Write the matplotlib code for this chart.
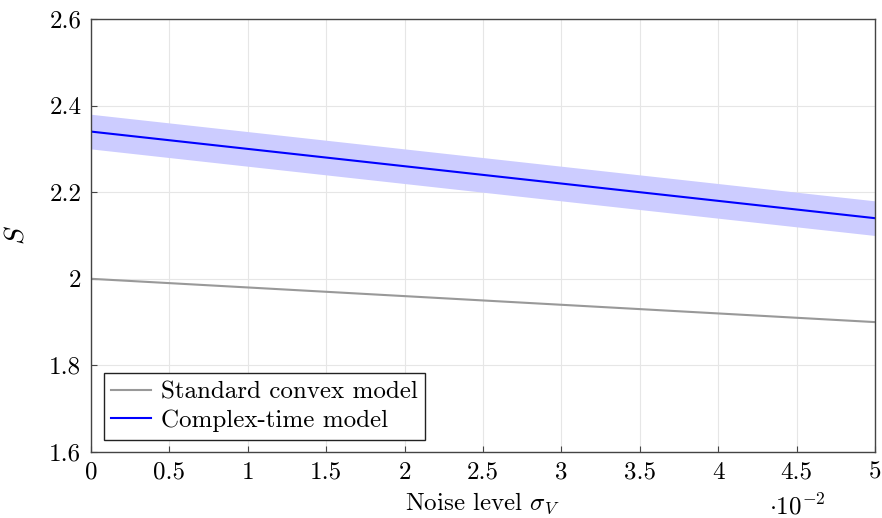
import matplotlib
matplotlib.use("Agg")
import matplotlib.pyplot as plt

plt.rcParams['font.family'] = 'serif'
plt.rcParams['font.serif'] = ['cmr10', 'DejaVu Serif']
plt.rcParams['mathtext.fontset'] = 'cm'
plt.rcParams['axes.formatter.use_mathtext'] = True

# data (x in units of 1e-2)
noise = [0, 1, 2, 3, 4, 5]
standard_convex = [2.00, 1.98, 1.96, 1.94, 1.92, 1.90]
complex_time = [2.34, 2.30, 2.26, 2.22, 2.18, 2.14]
complex_lower = [2.30, 2.26, 2.22, 2.18, 2.14, 2.10]
complex_upper = [2.38, 2.34, 2.30, 2.26, 2.22, 2.18]

xticks = [0, 0.5, 1, 1.5, 2, 2.5, 3, 3.5, 4, 4.5, 5]
xticklabels = ['0', '0.5', '1', '1.5', '2', '2.5', '3', '3.5', '4', '4.5', '5']
yticks = [1.6, 1.8, 2.0, 2.2, 2.4, 2.6]
yticklabels = ['1.6', '1.8', '2', '2.2', '2.4', '2.6']

FS = 18

fig = plt.figure(figsize=(8.82, 5.18), dpi=100)
ax = fig.add_axes([91/882, 1-452/518, (875-91)/882, (452-19)/518])

ax.fill_between(noise, complex_lower, complex_upper, color='#ccccff', linewidth=0)
ax.plot(noise, standard_convex, color='#999999', lw=1.5, label='Standard convex model')
ax.plot(noise, complex_time, color='#0000ff', lw=1.5, label='Complex-time model')

ax.set_xlim(0, 5)
ax.set_ylim(1.6, 2.6)
ax.set_xticks(xticks)
ax.set_xticklabels(xticklabels)
ax.set_yticks(yticks)
ax.set_yticklabels(yticklabels)
ax.tick_params(labelsize=FS, direction='in', length=4, color='#444444', pad=7)
ax.grid(True, color='#e6e6e6', lw=0.8)
ax.set_axisbelow(True)
for s in ax.spines.values():
    s.set_color('#444444')
    s.set_linewidth(1.0)

fig.text(482/882, 1-510/518, r'Noise level $\sigma_V$', fontsize=FS, ha='center', va='baseline')
ax.set_ylabel(r'$S$', fontsize=FS + 2, labelpad=14)
fig.text(797/882, 1-514/518, r'$\cdot 10^{-2}$', fontsize=FS, ha='center', va='baseline')

leg = ax.legend(loc='lower left', fontsize=FS, frameon=True, fancybox=False,
                edgecolor='#222222', framealpha=1, handlelength=1.6,
                borderaxespad=0.5, borderpad=0.3, labelspacing=0.25, handletextpad=0.4)
leg.get_frame().set_linewidth(1.0)

fig.savefig('out.png', dpi=100)
